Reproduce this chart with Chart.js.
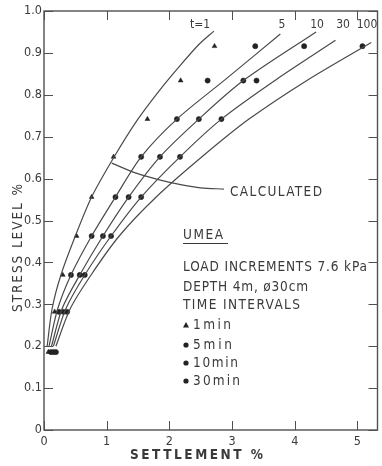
<!DOCTYPE html>
<html>
<head>
<meta charset="utf-8">
<script src="https://cdn.jsdelivr.net/npm/chart.js@4.4.1/dist/chart.umd.min.js"></script>
<style>
  html, body { margin: 0; padding: 0; background: #fff; }
  #wrap { width: 382px; height: 466px; }
</style>
</head>
<body>
<div id="wrap"><canvas id="chart" width="382" height="466"></canvas></div>
<script>
// Measured points: stress level of each load step, settlement % after each time interval
const stressLevels = [0.186, 0.282, 0.37, 0.463, 0.556, 0.652, 0.742, 0.834, 0.916];
const settle1min  = [0.07, 0.17, 0.30, 0.52, 0.76, 1.11, 1.65, 2.18, 2.72];
const settle5min  = [0.11, 0.24, 0.43, 0.76, 1.14, 1.55, 2.12, 2.61, 3.37];
const settle10min = [0.15, 0.31, 0.57, 0.94, 1.35, 1.85, 2.47, 3.18, 4.15];
const settle30min = [0.19, 0.37, 0.65, 1.07, 1.55, 2.17, 2.83, 3.39, 5.08];

// Drawn curves t = 1, 5, 10, 30, 100 (settlement, stress level)
const curveT1X   = [0.05, 0.13, 0.27, 0.50, 0.76, 1.12, 1.49, 1.84, 2.15, 2.47, 2.71];
const curveT1Y   = [0.20, 0.29, 0.37, 0.463, 0.556, 0.652, 0.74, 0.81, 0.866, 0.92, 0.952];
const curveT5X   = [0.08, 0.22, 0.43, 0.76, 1.14, 1.55, 2.12, 2.88, 3.77];
const curveT5Y   = [0.20, 0.29, 0.37, 0.463, 0.556, 0.652, 0.742, 0.835, 0.945];
const curveT10X  = [0.12, 0.29, 0.57, 0.94, 1.35, 1.85, 2.47, 3.18, 4.34];
const curveT10Y  = [0.20, 0.29, 0.37, 0.463, 0.556, 0.652, 0.742, 0.834, 0.95];
const curveT30X  = [0.15, 0.35, 0.65, 1.07, 1.55, 2.17, 2.83, 3.69, 4.65];
const curveT30Y  = [0.20, 0.29, 0.37, 0.463, 0.556, 0.652, 0.742, 0.835, 0.93];
const curveT100X = [0.19, 0.42, 0.75, 1.20, 1.79, 2.52, 3.27, 4.20, 5.22];
const curveT100Y = [0.20, 0.29, 0.37, 0.463, 0.556, 0.652, 0.742, 0.835, 0.925];
const curveLabels = ['t=1', '5', '10', '30', '100'];

// "Calculated" line
const calcX = [1.08, 1.47, 1.84, 2.20, 2.50, 2.87];
const calcY = [0.637, 0.613, 0.597, 0.585, 0.578, 0.575];

// Axis ticks
const xTickVals = [0, 1, 2, 3, 4, 5];
const yTickVals = [0, 0.1, 0.2, 0.3, 0.4, 0.5, 0.6, 0.7, 0.8, 0.9, 1.0];

const INK = '#3a3a3a';
const FONT = "'DejaVu Sans Condensed', 'Liberation Sans Narrow', 'DejaVu Sans', sans-serif";

const zip = (xs, ys) => xs.map((v, i) => ({ x: v, y: ys[i] }));

const curve = (xs, ys) => ({
    data: zip(xs, ys),
    showLine: true,
    borderColor: '#4a4a4a',
    borderWidth: 1.2,
    pointRadius: 0,
    tension: 0.3,
});

const marks = (xs, style, r) => ({
    data: zip(xs, stressLevels),
    showLine: false,
    pointStyle: style,
    pointRadius: r,
    backgroundColor: '#222',
    borderColor: '#222',
    borderWidth: 0.5,
});

// text drawn at a given width (letter spacing stretched to fit)
const fitText = (ctx, text, x, y, w) => {
    ctx.letterSpacing = '0px';
    const m = ctx.measureText(text).width;
    const ls = text.length > 1 ? (w - m) / (text.length - 1) : 0;
    ctx.letterSpacing = ls + 'px';
    ctx.fillText(text, x, y);
    ctx.letterSpacing = '0px';
};

// label centres above the curve ends (pixels)
const labelSpots = [[200, 25], [282, 25], [317, 25], [343, 25], [367, 25]];

const notes = [
    { text: 'CALCULATED', x: 230, y: 192, w: 92 },
    { text: 'UMEA', x: 183, y: 235, w: 40 },
    { text: 'LOAD INCREMENTS 7.6 kPa', x: 183, y: 267, w: 184 },
    { text: 'DEPTH 4m, \u00f830cm', x: 183, y: 287, w: 125 },
    { text: 'TIME INTERVALS', x: 183, y: 305, w: 117 },
    { text: '1min', x: 193, y: 325, w: 38 },
    { text: '5min', x: 193, y: 345, w: 39 },
    { text: '10min', x: 193, y: 363, w: 45 },
    { text: '30min', x: 193, y: 381, w: 47 },
];

const framePlugin = {
    id: 'frameAndNotes',
    afterDraw(chart) {
        const { ctx, chartArea: a, scales } = chart;
        const sx = scales.x, sy = scales.y;
        ctx.save();
        ctx.strokeStyle = '#505050';
        ctx.lineWidth = 1.4;
        ctx.strokeRect(a.left, a.top, a.right - a.left, a.bottom - a.top);
        ctx.lineWidth = 1;
        ctx.beginPath();
        xTickVals.forEach((v) => {
            const px = Math.round(sx.getPixelForValue(v)) + 0.5;
            ctx.moveTo(px, a.bottom); ctx.lineTo(px, a.bottom - 9);
            ctx.moveTo(px, a.top); ctx.lineTo(px, a.top + 9);
        });
        yTickVals.forEach((v) => {
            const py = Math.round(sy.getPixelForValue(v)) + 0.5;
            ctx.moveTo(a.left, py); ctx.lineTo(a.left + 9, py);
            ctx.moveTo(a.right, py); ctx.lineTo(a.right - 9, py);
        });
        ctx.stroke();

        // curve labels
        ctx.fillStyle = INK;
        ctx.textBaseline = 'middle';
        ctx.textAlign = 'center';
        ctx.font = '12px ' + FONT;
        curveLabels.forEach((t, i) => ctx.fillText(t, labelSpots[i][0], labelSpots[i][1]));

        // annotation text
        ctx.textAlign = 'left';
        ctx.font = '13.5px ' + FONT;
        notes.forEach((n) => fitText(ctx, n.text, n.x, n.y, n.w));

        // underline under UMEA
        ctx.strokeStyle = INK;
        ctx.lineWidth = 1.2;
        ctx.beginPath();
        ctx.moveTo(183, 243.5); ctx.lineTo(228, 243.5);
        ctx.stroke();

        // legend markers
        ctx.fillStyle = '#222';
        ctx.beginPath();
        ctx.moveTo(186, 322); ctx.lineTo(189, 327.5); ctx.lineTo(183, 327.5);
        ctx.closePath(); ctx.fill();
        [345, 363, 381].forEach((yy) => {
            ctx.beginPath(); ctx.arc(186, yy, 2.6, 0, Math.PI * 2); ctx.fill();
        });

        // axis titles
        ctx.fillStyle = INK;
        ctx.font = 'bold 13.5px ' + FONT;
        fitText(ctx, 'SETTLEMENT %', 130, 455, 133);
        ctx.font = '13.5px ' + FONT;
        ctx.translate(18, 312);
        ctx.rotate(-Math.PI / 2);
        fitText(ctx, 'STRESS LEVEL %', 0, 0, 128);
        ctx.restore();
    },
};

new Chart(document.getElementById('chart'), {
    type: 'scatter',
    data: {
        datasets: [
            curve(curveT1X, curveT1Y),
            curve(curveT5X, curveT5Y),
            curve(curveT10X, curveT10Y),
            curve(curveT30X, curveT30Y),
            curve(curveT100X, curveT100Y),
            curve(calcX, calcY),
            marks(settle1min, 'triangle', 2.8),
            marks(settle5min, 'circle', 2.6),
            marks(settle10min, 'circle', 2.6),
            marks(settle30min, 'circle', 2.6),
        ],
    },
    options: {
        responsive: false,
        animation: false,
        devicePixelRatio: 1,
        layout: { padding: { top: 11, right: 2, left: 0, bottom: 0 } },
        plugins: { legend: { display: false }, tooltip: { enabled: false } },
        scales: {
            x: {
                type: 'linear',
                min: 0,
                max: 5.32,
                grid: { display: false, drawTicks: false },
                border: { display: false },
                afterBuildTicks: (s) => { s.ticks = xTickVals.map((v) => ({ value: v })); },
                afterFit: (s) => { s.height = 36; },
                ticks: {
                    color: INK,
                    font: { family: FONT, size: 12.5 },
                    padding: 4,
                    maxRotation: 0,
                    autoSkip: false,
                    callback: (v) => String(v),
                },
            },
            y: {
                type: 'linear',
                min: 0,
                max: 1.0,
                grid: { display: false, drawTicks: false },
                border: { display: false },
                afterBuildTicks: (s) => { s.ticks = yTickVals.map((v) => ({ value: v })); },
                afterFit: (s) => { s.width = 44; },
                ticks: {
                    color: INK,
                    font: { family: FONT, size: 12.5 },
                    padding: 2,
                    autoSkip: false,
                    callback: (v) => (v === 0 ? '0' : Number(v).toFixed(1)),
                },
            },
        },
    },
    plugins: [framePlugin],
});
</script>
</body>
</html>
